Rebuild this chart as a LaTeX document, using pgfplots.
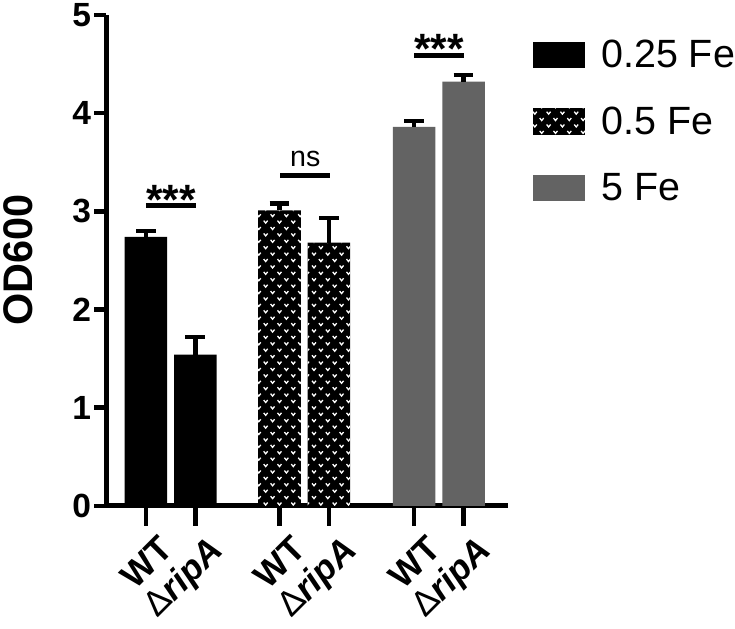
\documentclass[border=0pt]{standalone}
\usepackage{fontspec}
\setmainfont{Liberation Sans}
\usepackage{pgfplots}
\usepackage{pgfplotstable}
\pgfplotsset{compat=1.18}
\usetikzlibrary{patterns}

\definecolor{fegray}{RGB}{99,99,99}

% white "v" marks on a dark ground
\pgfdeclarepatternformonly{vdots}{\pgfqpoint{-1pt}{-1pt}}{\pgfqpoint{15pt}{14pt}}{\pgfqpoint{14pt}{13pt}}{%
  \pgfsetlinewidth{1.3pt}%
  \pgfpathmoveto{\pgfqpoint{1.5pt}{11pt}}\pgfpathlineto{\pgfqpoint{3.5pt}{8.5pt}}\pgfpathlineto{\pgfqpoint{5.5pt}{11pt}}%
  \pgfpathmoveto{\pgfqpoint{8.5pt}{4.5pt}}\pgfpathlineto{\pgfqpoint{10.5pt}{2pt}}\pgfpathlineto{\pgfqpoint{12.5pt}{4.5pt}}%
  \pgfusepath{stroke}%
}

% x: bar position, y: mean OD600, e: error
\pgfplotstableread{
x   y    e
147 2.74 0.06
197 1.54 0.18
}\lowfe
\pgfplotstableread{
x   y    e
282 3.01 0.07
332 2.68 0.25
}\midfe
\pgfplotstableread{
x   y    e
418 3.86 0.06
468 4.32 0.07
}\highfe

\begin{document}
\begin{tikzpicture}
\begin{axis}[
  scale only axis, width=406bp, height=496bp,
  xmin=107, xmax=513, ymin=0, ymax=5,
  axis x line=bottom, axis y line=left,
  axis line style={-, line width=5bp},
  ybar, bar shift=0pt, bar width=43,
  xtick={147,197,282,332,418,468},
  xticklabels={\textbf{WT},Δ\textbf{\textit{ripA}},\textbf{WT},Δ\textbf{\textit{ripA}},\textbf{WT},Δ\textbf{\textit{ripA}}},
  ytick={0,1,2,3,4,5},
  tick align=outside, major tick length=12bp,
  tick style={line width=4.5bp, black},
  xtick style={/pgfplots/major tick length=20bp},
  /pgf/number format/assume math mode=true,
  yticklabel style={font=\bfseries\fontsize{34}{34}\selectfont},
  xticklabel style={font=\fontsize{36}{36}\selectfont, rotate=45, anchor=north east, yshift=-16bp},
  ylabel={OD600},
  ylabel style={font=\bfseries\fontsize{42}{42}\selectfont, at={(axis description cs:-0.220,0.5)}, anchor=center},
  legend image code/.code={\path[#1, draw=none] (0bp,-13.5bp) rectangle (53bp,13.5bp);},
  legend cell align=left,
  legend style={at={(axis cs:538,4.743)}, anchor=north west, draw=none, fill=none,
    inner sep=0pt, font=\fontsize{40}{40}\selectfont, row sep=38bp,
    nodes={inner sep=0pt},
    /tikz/every odd column/.append style={column sep=16bp}},
  clip=false,
]
\addplot[fill=black, draw=none,
  error bars/.cd, y dir=plus, y explicit,
  error bar style={line width=4.5bp, black},
  error mark options={rotate=90, mark size=10bp, line width=4.5bp, black}]
  table[x=x, y=y, y error=e] {\lowfe};
\addlegendentry{0.25 Fe}
\addplot[fill=black, draw=none, postaction={pattern=vdots, pattern color=white},
  error bars/.cd, y dir=plus, y explicit,
  error bar style={line width=4.5bp, black},
  error mark options={rotate=90, mark size=10bp, line width=4.5bp, black}]
  table[x=x, y=y, y error=e] {\midfe};
\addlegendentry{0.5 Fe}
\addplot[fill=fegray, draw=none,
  error bars/.cd, y dir=plus, y explicit,
  error bar style={line width=4.5bp, black},
  error mark options={rotate=90, mark size=10bp, line width=4.5bp, black}]
  table[x=x, y=y, y error=e] {\highfe};
\addlegendentry{5 Fe}

% significance brackets
\draw[line width=5bp] (axis cs:147,3.06) -- (axis cs:198,3.06);
\draw[line width=5bp] (axis cs:283,3.36) -- (axis cs:333,3.36);
\draw[line width=5bp] (axis cs:418,4.59) -- (axis cs:468,4.59);
\node[anchor=base, inner sep=0pt, font=\bfseries\fontsize{43}{43}\selectfont] at (axis cs:172.5,2.97) {***};
\node[anchor=base, inner sep=0pt, font=\fontsize{29}{29}\selectfont] at (axis cs:308,3.46) {ns};
\node[anchor=base, inner sep=0pt, font=\bfseries\fontsize{43}{43}\selectfont] at (axis cs:443,4.51) {***};

% page frame
\path (axis cs:0,-1.230) rectangle (axis cs:735,5.141);
\end{axis}
\end{tikzpicture}
\end{document}
